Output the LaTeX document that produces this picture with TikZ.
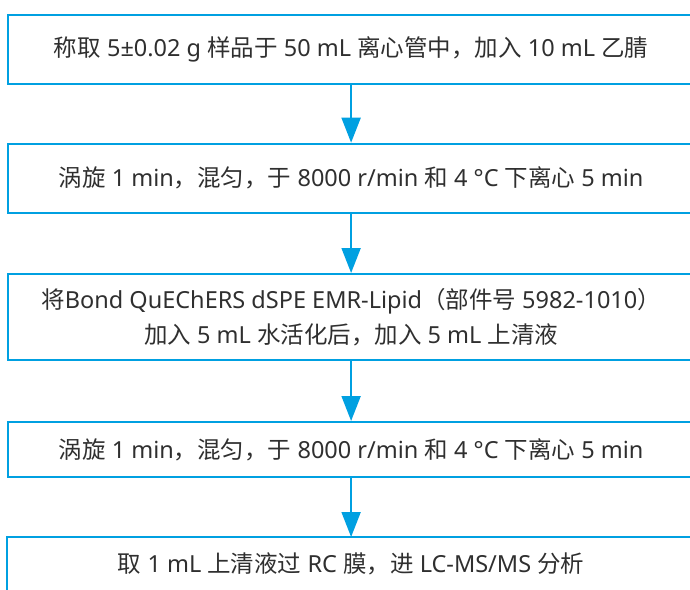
\documentclass[tikz,border=0pt]{standalone}
\usepackage{fontspec}
\setmainfont{Noto Sans}
\newfontfamily\cjk{Noto Sans CJK SC}
\usetikzlibrary{arrows.meta}
\definecolor{ablue}{HTML}{00A0E1}
\definecolor{txt}{HTML}{2F2F2F}
\begin{document}
\begin{tikzpicture}[x=1pt,y=-1pt,
  boxline/.style={draw=ablue, line width=2.2pt},
  stepbox/.style={boxline, minimum width=686pt, align=center, text=txt,
    font=\fontsize{23.5}{35}\selectfont, inner sep=0pt, anchor=north west},
  flow/.style={draw=ablue, line width=2pt, -{Triangle[length=25pt,width=19pt]}}]
\useasboundingbox (0,0) rectangle (690,589);
\node[stepbox, minimum height=69pt] (b1) at (7,14)
  {{\cjk 称取} 5±0.02 g {\cjk 样品于} 50 mL {\cjk 离心管中，加入} 10 mL {\cjk 乙腈}};
\node[stepbox, minimum height=69pt] (b2) at (7,142.7)
  {{\cjk 涡旋} 1 min{\cjk ，混匀，于} 8000 r/min {\cjk 和} 4 °C {\cjk 下离心} 5 min};
\node[stepbox, minimum height=86pt] (b3) at (7,273)
  {{\cjk 将}Bond QuEChERS dSPE EMR-Lipid{\cjk （部件号} 5982-1010{\cjk ）}\\{\cjk 加入} 5 mL {\cjk 水活化后，加入} 5 mL {\cjk 上清液}};
\node[stepbox, minimum height=55pt] (b4) at (7,421)
  {{\cjk 涡旋} 1 min{\cjk ，混匀，于} 8000 r/min {\cjk 和} 4 °C {\cjk 下离心} 5 min};
\node[stepbox, draw=none, minimum height=52pt] (b5) at (7,537)
  {{\cjk 取} 1 mL {\cjk 上清液过} RC {\cjk 膜，进} LC-MS/MS {\cjk 分析}};
\draw[boxline] ([yshift=-20pt]b5.south west) |- (b5.north east) -- ([yshift=-20pt]b5.south east);
\draw[flow] (b1.south) -- (b2.north);
\draw[flow] (b2.south) -- (b3.north);
\draw[flow] (b3.south) -- (b4.north);
\draw[flow] (b4.south) -- (b5.north);
\end{tikzpicture}
\end{document}
